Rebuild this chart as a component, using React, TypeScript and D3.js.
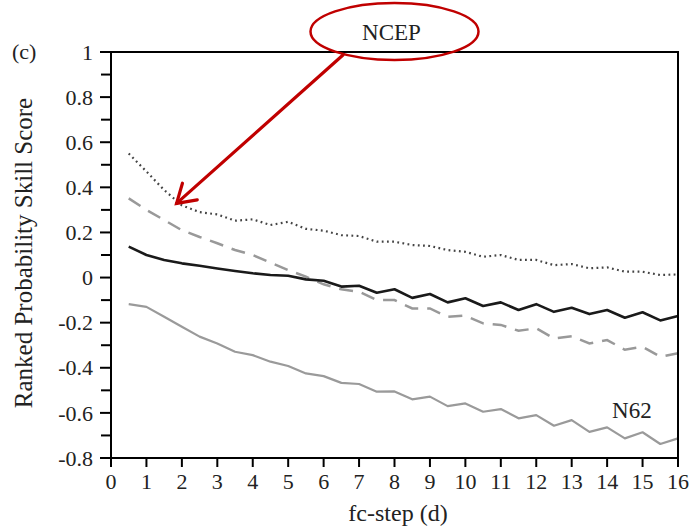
import React from "react";
import * as d3 from "d3";

const steps = [0.5, 1, 1.5, 2, 2.5, 3, 3.5, 4, 4.5, 5, 5.5, 6, 6.5, 7, 7.5, 8, 8.5, 9, 9.5, 10, 10.5, 11, 11.5, 12, 12.5, 13, 13.5, 14, 14.5, 15, 15.5, 16];

const solidBlack = [0.137, 0.10, 0.078, 0.063, 0.052, 0.04, 0.029, 0.019, 0.011, 0.008, -0.008, -0.014, -0.04, -0.036, -0.067, -0.052, -0.09, -0.073, -0.11, -0.092, -0.126, -0.11, -0.144, -0.118, -0.152, -0.134, -0.162, -0.144, -0.178, -0.154, -0.19, -0.17];

const dashedGray = [0.351, 0.30, 0.255, 0.21, 0.18, 0.152, 0.122, 0.10, 0.066, 0.033, 0.004, -0.03, -0.052, -0.063, -0.1, -0.1, -0.137, -0.137, -0.174, -0.169, -0.203, -0.21, -0.236, -0.225, -0.27, -0.26, -0.292, -0.277, -0.32, -0.307, -0.351, -0.336];

const dotted = [0.55, 0.47, 0.388, 0.32, 0.29, 0.28, 0.252, 0.258, 0.233, 0.247, 0.216, 0.208, 0.188, 0.184, 0.159, 0.159, 0.144, 0.14, 0.122, 0.114, 0.092, 0.1, 0.078, 0.078, 0.055, 0.06, 0.041, 0.045, 0.026, 0.026, 0.011, 0.014];

const n62 = [-0.118, -0.13, -0.174, -0.218, -0.262, -0.292, -0.329, -0.344, -0.373, -0.392, -0.425, -0.437, -0.467, -0.472, -0.506, -0.505, -0.54, -0.528, -0.57, -0.558, -0.595, -0.583, -0.624, -0.61, -0.657, -0.632, -0.684, -0.664, -0.713, -0.686, -0.738, -0.713];

const xTicks = d3.range(0, 17, 1);
const yMajor = [1, 0.8, 0.6, 0.4, 0.2, 0, -0.2, -0.4, -0.6, -0.8];
const yMinor = [0.9, 0.7, 0.5, 0.3, 0.1, -0.1, -0.3, -0.5, -0.7];

const yTitle = "Ranked Probability Skill Score";
const xTitle = "fc-step (d)";
const panelLabel = "(c)";
const calloutLabel = "NCEP";
const seriesLabel = "N62";

const FONT = "'Liberation Serif', 'Times New Roman', serif";

export default function App() {
  const x = d3.scaleLinear().domain([0, 16]).range([111, 678]);
  const y = d3.scaleLinear().domain([-0.8, 1]).range([458, 52]);

  const line = (vals: number[]) =>
    d3
      .line<number>()
      .x((_, i) => x(steps[i]))
      .y((v) => y(v))(vals) as string;

  const fmt = (v: number) => (v === 0 ? "0" : v === 1 ? "1" : d3.format(".1f")(v).replace("−", "-"));

  // annotation: arrow from ellipse to dotted curve near day 1.9
  const tipX = x(1.85);
  const tipY = y(0.32) - 2;
  const startX = 343;
  const startY = 55;
  const ang = Math.atan2(startY - tipY, startX - tipX);
  const armLen = 21;
  const spread = (32 * Math.PI) / 180;
  const a1 = [tipX + armLen * Math.cos(ang - spread), tipY + armLen * Math.sin(ang - spread)];
  const a2 = [tipX + armLen * Math.cos(ang + spread), tipY + armLen * Math.sin(ang + spread)];

  return (
    <svg
      width={692}
      height={527}
      style={{ position: "fixed", left: 0, top: 0, background: "#fff" }}
      fontFamily={FONT}
    >
      <rect x={0} y={0} width={692} height={527} fill="#fff" />

      {/* series */}
      <path d={line(n62)} fill="none" stroke="#9a9a9a" strokeWidth={2.2} strokeLinejoin="round" />
      <path d={line(dashedGray)} fill="none" stroke="#999" strokeWidth={2.5} strokeDasharray="14 9" />
      <path d={line(dotted)} fill="none" stroke="#444" strokeWidth={2.2} strokeDasharray="1.8 3.4" />
      <path d={line(solidBlack)} fill="none" stroke="#1a1a1a" strokeWidth={2.6} strokeLinejoin="round" />

      {/* frame */}
      <rect x={x(0)} y={y(1)} width={x(16) - x(0)} height={y(-0.8) - y(1)} fill="none" stroke="#000" strokeWidth={2} />

      {/* y ticks */}
      {yMajor.map((v) => (
        <g key={"ym" + v}>
          <line x1={x(0) - 11} x2={x(0)} y1={y(v)} y2={y(v)} stroke="#000" strokeWidth={2} />
          <text x={93} y={y(v)} dy="0.35em" textAnchor="end" fontSize={22} fill="#222">
            {fmt(v)}
          </text>
        </g>
      ))}
      {yMinor.map((v) => (
        <line key={"yn" + v} x1={x(0) - 10} x2={x(0)} y1={y(v)} y2={y(v)} stroke="#000" strokeWidth={2} />
      ))}

      {/* x ticks */}
      {xTicks.map((t) => (
        <g key={"x" + t}>
          <line x1={x(t)} x2={x(t)} y1={y(-0.8)} y2={y(-0.8) + 9} stroke="#000" strokeWidth={2} />
          <text x={x(t)} y={489} textAnchor="middle" fontSize={22} fill="#222">
            {t}
          </text>
        </g>
      ))}

      {/* titles */}
      <text x={398} y={521} textAnchor="middle" fontSize={24} fill="#222">
        {xTitle}
      </text>
      <text
        transform={`translate(32, ${(93 + 413) / 2}) rotate(-90)`}
        textAnchor="middle"
        fontSize={25}
        fill="#222"
      >
        {yTitle}
      </text>
      <text x={12} y={59} fontSize={22} fill="#222">
        {panelLabel}
      </text>
      <text x={x(14.7)} y={418} textAnchor="middle" fontSize={23} fill="#222">
        {seriesLabel}
      </text>

      {/* callout */}
      <ellipse cx={x(8)} cy={31.5} rx={84} ry={28.5} fill="none" stroke="#c00000" strokeWidth={2.5} />
      <text x={x(8) - 3} y={40} textAnchor="middle" fontSize={23} fill="#222">
        {calloutLabel}
      </text>
      <line x1={startX} y1={startY} x2={tipX} y2={tipY} stroke="#c00000" strokeWidth={3.2} strokeLinecap="round" />
      <polyline
        points={`${a1[0]},${a1[1]} ${tipX},${tipY} ${a2[0]},${a2[1]}`}
        fill="none"
        stroke="#c00000"
        strokeWidth={3.2}
        strokeLinecap="round"
        strokeLinejoin="miter"
      />
    </svg>
  );
}
